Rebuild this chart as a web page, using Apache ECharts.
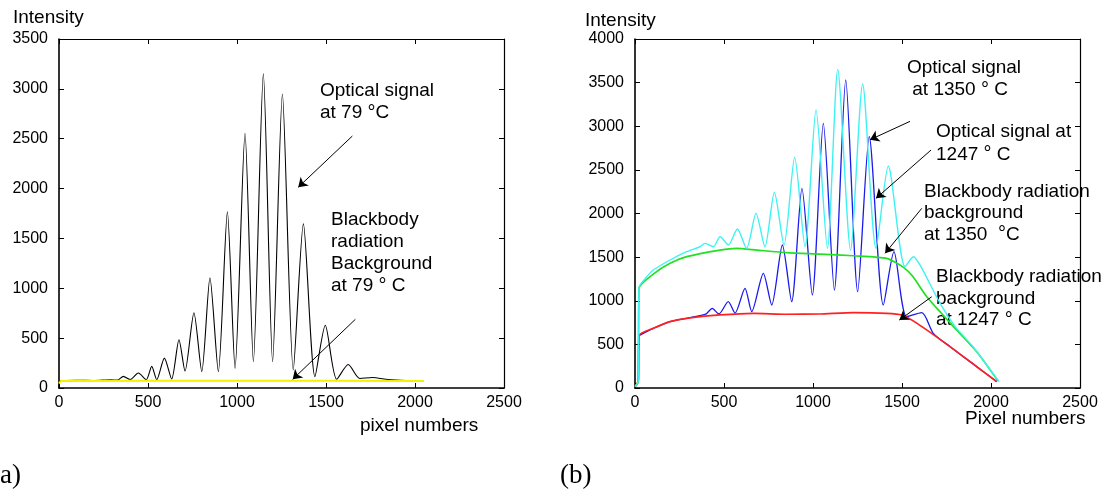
<!DOCTYPE html>
<html>
<head>
<meta charset="utf-8">
<script src="https://cdn.jsdelivr.net/npm/echarts@6/dist/echarts.min.js"></script>
<style>
  html, body { margin: 0; padding: 0; background: #fff; }
  #container { width: 1109px; height: 493px; }
</style>
</head>
<body>
<div id="container"></div>
<script>
// (a) 79 C: optical signal and blackbody background, [pixel, intensity]
const signal79 = [[0, 0], [5, 70], [100, 78], [200, 75], [290, 82], [330, 80], [361, 117], [400, 85], [446, 150], [490, 82],
    [521, 217], [549, 83], [592, 300], [633, 90], [674, 484], [708, 170], [758, 755], [802, 164], [848, 1105], [895, 164],
    [946, 1767], [989, 197], [1045, 2555], [1092, 264], [1148, 3150], [1200, 264], [1255, 2949], [1316, 181],
    [1373, 1646], [1438, 114], [1496, 630], [1560, 87], [1625, 235], [1690, 95], [1760, 105], [1850, 85], [1950, 75], [2048, 72]];
const background79 = [[0, 45], [10, 70], [500, 73], [1000, 72], [1500, 72], [2050, 70]];

// (b) 1350 C and 1247 C
const signal1350 = [[0, 15], [15, 60], [19, 90], [22, 1150], [60, 1260], [103, 1352], [197, 1467], [290, 1562], [365, 1619],
    [393, 1658], [440, 1619], [478, 1734], [525, 1639], [575, 1822], [627, 1601], [680, 2002], [730, 1619], [783, 2243],
    [837, 1639], [897, 2644], [955, 1619], [1017, 3186], [1081, 1601], [1139, 3652], [1211, 1581], [1279, 3484],
    [1354, 1601], [1423, 2544], [1517, 1390], [1564, 1505], [1611, 1375], [1660, 1180], [1720, 950], [1800, 700],
    [1900, 470], [2045, 73]];
const signal1247 = [[0, 15], [15, 60], [19, 90], [22, 590], [60, 640], [103, 684], [197, 761], [290, 799], [365, 830],
    [400, 850], [434, 913], [471, 848], [524, 989], [562, 859], [618, 1142], [656, 875], [721, 1314], [768, 951],
    [828, 1639], [880, 989], [938, 2288], [996, 1066], [1058, 3033], [1120, 1123], [1184, 3530], [1251, 1104],
    [1316, 2880], [1395, 951], [1455, 1562], [1526, 817], [1611, 863], [1676, 627], [1770, 474], [1920, 244], [2032, 73]];
const background1350 = [[0, 15], [15, 60], [19, 90], [22, 1140], [103, 1306], [197, 1429], [290, 1505], [478, 1581],
    [571, 1601], [684, 1581], [852, 1551], [1039, 1535], [1227, 1516], [1414, 1486], [1508, 1383], [1560, 1280],
    [1639, 1047], [1720, 860], [1800, 680], [1920, 416], [2040, 80]];
const background1247 = [[0, 15], [15, 60], [19, 90], [22, 600], [103, 684], [197, 761], [290, 799], [478, 837],
    [665, 856], [852, 845], [1039, 848], [1227, 863], [1414, 856], [1498, 837], [1585, 741], [1770, 474],
    [1920, 244], [2032, 73]];

const xTicks = [0, 2500, 500];
const yTicksA = [0, 3500, 500];
const yTicksB = [0, 4000, 500];

// arrows, [from, to] in data units
const arrowsA = [[[1648, 2527], [1344, 2013]], [[1665, 689], [1313, 87]]];
const arrowsB = [[[1545, 3056], [1320, 2845]], [[1663, 2727], [1354, 2174]], [[1611, 2059], [1405, 1544]],
    [[1667, 1046], [1485, 779]]];

const FONT = 'Liberation Sans, Arial, sans-serif';

function axisX(grid, pos, ticks) {
    return {
        type: 'value', gridIndex: grid, position: pos,
        min: ticks[0], max: ticks[1], interval: ticks[2],
        axisLine: { onZero: false, lineStyle: { color: '#000', width: pos === 'bottom' ? 1.6 : 1.2 } },
        axisTick: { inside: true, length: 5, lineStyle: { color: '#000' } },
        axisLabel: {
            show: pos === 'bottom', color: '#000', fontFamily: FONT, fontSize: 16, margin: 7,
            formatter: v => String(v)
        },
        splitLine: { show: false }
    };
}

function axisY(grid, pos, ticks) {
    return {
        type: 'value', gridIndex: grid, position: pos,
        min: ticks[0], max: ticks[1], interval: ticks[2],
        axisLine: { onZero: false, lineStyle: { color: '#000', width: pos === 'left' ? 1.6 : 1.2 } },
        axisTick: { inside: true, length: 5, lineStyle: { color: '#000' } },
        axisLabel: {
            show: pos === 'left', color: '#000', fontFamily: FONT, fontSize: 16, margin: 11,
            formatter: v => String(v)
        },
        splitLine: { show: false }
    };
}

function arrowLines(list) {
    return {
        silent: true,
        symbol: ['none', 'arrow'],
        symbolSize: 9,
        label: { show: false },
        lineStyle: { color: '#000', width: 1, type: 'solid' },
        emphasis: { disabled: true },
        data: list.map(a => [{ coord: a[0] }, { coord: a[1] }])
    };
}

function line(name, data, color, width, xi, smooth, extra) {
    return Object.assign({
        name: name, type: 'line', data: data,
        xAxisIndex: xi, yAxisIndex: xi,
        showSymbol: false, smooth: smooth,
        lineStyle: { color: color, width: width },
        itemStyle: { color: color },
        emphasis: { disabled: true }
    }, extra || {});
}

// degree mark drawn raised, as in the original figure
const sup = { s: { fontSize: 20, fontFamily: FONT, fill: '#000' } };

function label(x, y, text, lh) {
    return {
        type: 'text', x: x, y: y, silent: true,
        style: {
            text: text, fontFamily: FONT, fontSize: 19, lineHeight: lh || 22,
            fill: '#000', align: 'left', verticalAlign: 'top', rich: sup
        }
    };
}

function drawChart() {
    const myChart = echarts.init(document.getElementById('container'));
    const option = {
        animation: false,
        grid: [
            { left: 59, top: 39, width: 445, height: 349 },
            { left: 635, top: 39, width: 445, height: 349 }
        ],
        xAxis: [axisX(0, 'bottom', xTicks), axisX(0, 'top', xTicks), axisX(1, 'bottom', xTicks), axisX(1, 'top', xTicks)],
        yAxis: [axisY(0, 'left', yTicksA), axisY(0, 'right', yTicksA), axisY(1, 'left', yTicksB), axisY(1, 'right', yTicksB)],
        series: [
            line('Optical signal at 79 C', signal79, '#000000', 1.1, 0, 0.25, { markLine: arrowLines(arrowsA) }),
            line('Blackbody background at 79 C', background79, '#f2f200', 2, 0, false),
            line('Optical signal at 1247 C', signal1247, '#1a1aee', 1.3, 2, 0.25),
            line('Blackbody background at 1247 C', background1247, '#ff2020', 1.7, 2, 0.2),
            line('Blackbody background at 1350 C', background1350, '#22e022', 1.7, 2, 0.2),
            line('Optical signal at 1350 C', signal1350, '#3ef2f2', 1.4, 2, 0.25, { markLine: arrowLines(arrowsB) })
        ],
        graphic: [
            label(13, 7, 'Intensity'),
            label(585, 10, 'Intensity'),
            label(360, 415, 'pixel numbers'),
            label(965, 408, 'Pixel numbers'),
            label(320, 79, 'Optical signal\nat 79 {s|°}C', 22.7),
            label(331, 209, 'Blackbody\nradiation\nBackground\nat 79 {s|°} C', 22),
            label(907, 57, 'Optical signal\n at 1350 {s|°} C', 22),
            label(936, 120, 'Optical signal at\n1247 {s|°} C', 23),
            label(924, 181, 'Blackbody radiation\nbackground\nat 1350  {s|°}C', 21.5),
            label(936, 266, 'Blackbody radiation\nbackground\nat 1247 {s|°} C', 21.7),
            {
                type: 'text', x: -9, y: 462, silent: true,
                style: { text: '(a)', fontFamily: 'Liberation Serif, Times New Roman, serif', fontSize: 27, fill: '#000', verticalAlign: 'top' }
            },
            {
                type: 'text', x: 560, y: 462, silent: true,
                style: { text: '(b)', fontFamily: 'Liberation Serif, Times New Roman, serif', fontSize: 27, fill: '#000', verticalAlign: 'top' }
            }
        ]
    };
    myChart.setOption(option);
}

drawChart();
</script>
</body>
</html>
